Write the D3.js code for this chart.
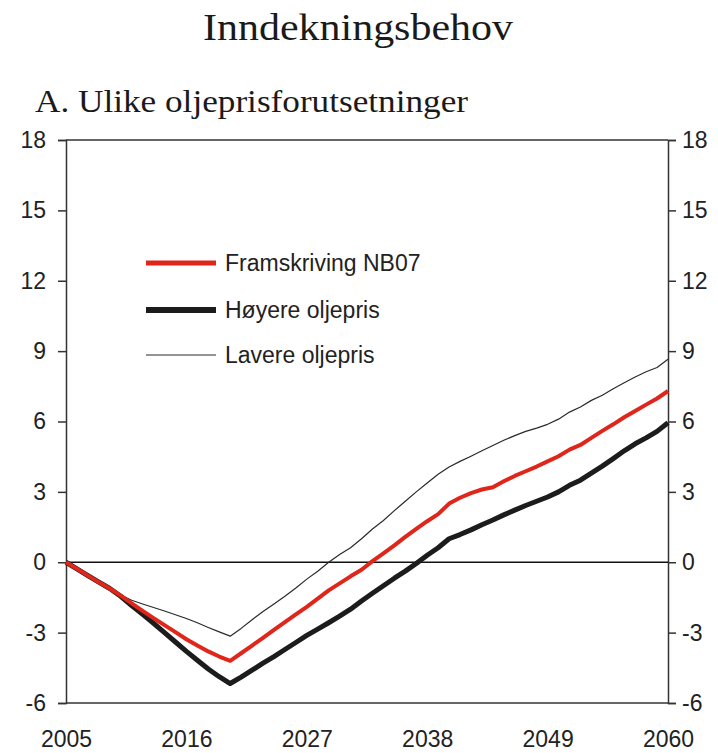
<!DOCTYPE html>
<html><head><meta charset="utf-8">
<script src="https://cdn.jsdelivr.net/npm/d3@7"></script>
<style>body{margin:0;background:#fff}svg{display:block}</style>
</head><body>
<svg id="c" width="718" height="753"></svg>
<script>
const title = "Inndekningsbehov";
const subtitle = "A. Ulike oljeprisforutsetninger";
const years = d3.range(2005, 2061);
const xTicks = [2005, 2016, 2027, 2038, 2049, 2060];
const yTicks = [-6, -3, 0, 3, 6, 9, 12, 15, 18];
const seriesNames = ["Framskriving NB07", "Høyere oljepris", "Lavere oljepris"];
const nb07 = [0,-0.28,-0.57,-0.85,-1.12,-1.42,-1.75,-2.07,-2.38,-2.68,-2.98,-3.28,-3.55,-3.8,-4.02,-4.2,
  -3.88,-3.55,-3.22,-2.88,-2.55,-2.22,-1.9,-1.55,-1.2,-0.9,-0.6,-0.32,0.05,0.38,0.72,1.08,1.42,1.75,2.05,2.5,
  2.75,2.95,3.1,3.2,3.45,3.68,3.88,4.08,4.3,4.52,4.8,5.0,5.3,5.6,5.88,6.18,6.45,6.72,6.98,7.3];
const hoyere = [0,-0.28,-0.57,-0.85,-1.12,-1.45,-1.85,-2.22,-2.6,-3.0,-3.4,-3.8,-4.18,-4.55,-4.88,-5.17,
  -4.9,-4.6,-4.3,-4.02,-3.72,-3.42,-3.12,-2.85,-2.58,-2.3,-2.0,-1.65,-1.32,-1.0,-0.68,-0.38,-0.05,0.3,0.62,1.0,
  1.18,1.38,1.6,1.8,2.02,2.22,2.42,2.6,2.78,3.0,3.28,3.5,3.8,4.1,4.42,4.75,5.05,5.3,5.58,5.95];
const lavere = [0,-0.28,-0.57,-0.85,-1.12,-1.4,-1.62,-1.78,-1.93,-2.08,-2.24,-2.4,-2.58,-2.78,-2.97,-3.15,
  -2.82,-2.45,-2.1,-1.78,-1.45,-1.1,-0.72,-0.38,0.0,0.33,0.62,1.0,1.42,1.78,2.2,2.6,3.0,3.38,3.75,4.06,
  4.3,4.52,4.75,4.98,5.2,5.4,5.58,5.72,5.88,6.1,6.4,6.62,6.9,7.12,7.4,7.65,7.9,8.12,8.3,8.65];

const svg = d3.select("#c");
const L = 66, R = 668, T = 140, B = 703;
const x = d3.scaleLinear().domain([2005, 2060]).range([L, R]);
const y = d3.scaleLinear().domain([-6, 18]).range([B, T]);
const axisColor = "#333";
const labelFont = "'Liberation Sans', Arial, sans-serif";
const serif = "'Liberation Serif', 'Times New Roman', serif";
const textColor = "#222";
const fs = 23;
const fmt = d => String(d);

svg.append("text").attr("x", 358).attr("y", 40).attr("text-anchor", "middle")
  .attr("font-family", serif).attr("font-size", 37)
  .attr("textLength", 310).attr("lengthAdjust", "spacingAndGlyphs")
  .attr("fill", "#1a1a1a").text(title);
svg.append("text").attr("x", 35).attr("y", 112)
  .attr("font-family", serif).attr("font-size", 31)
  .attr("textLength", 433).attr("lengthAdjust", "spacingAndGlyphs")
  .attr("fill", "#1a1a1a").text(subtitle);

// frame
svg.append("line").attr("x1", L).attr("x2", R).attr("y1", T).attr("y2", T).attr("stroke", axisColor).attr("stroke-width", 1.5);
svg.append("line").attr("x1", L).attr("x2", R).attr("y1", B).attr("y2", B).attr("stroke", axisColor).attr("stroke-width", 1.5);

const yl = svg.append("g").attr("transform", `translate(${L},0)`)
  .call(d3.axisLeft(y).tickValues(yTicks).tickSize(8).tickPadding(12).tickFormat(fmt));
const yr = svg.append("g").attr("transform", `translate(${R},0)`)
  .call(d3.axisRight(y).tickValues(yTicks).tickSize(8).tickPadding(6).tickFormat(fmt));
const xb = svg.append("g").attr("transform", `translate(0,${B})`)
  .call(d3.axisBottom(x).tickValues(xTicks).tickSize(0).tickPadding(28).tickFormat(fmt));
[yl, yr, xb].forEach(g => {
  g.select(".domain").attr("stroke", axisColor).attr("stroke-width", 1.5);
  g.selectAll(".tick line").attr("stroke", axisColor).attr("stroke-width", 1.5);
  g.selectAll(".tick text").attr("font-family", labelFont).attr("font-size", fs).attr("fill", textColor);
});
xb.select(".domain").remove();

// zero line
svg.append("line").attr("x1", L).attr("x2", R).attr("y1", y(0)).attr("y2", y(0)).attr("stroke", "#111").attr("stroke-width", 1.5);

const line = d3.line().x((d, i) => x(years[i])).y(d => y(d));
const styles = [
  {data: lavere, color: "#2a2a2a", w: 1.2},
  {data: hoyere, color: "#1c1c1c", w: 5},
  {data: nb07, color: "#e0261b", w: 4}
];
styles.forEach(s => svg.append("path").datum(s.data).attr("d", line)
  .attr("fill", "none").attr("stroke", s.color).attr("stroke-width", s.w).attr("stroke-linejoin", "round"));

// legend
const leg = [
  {name: seriesNames[0], color: "#e0261b", w: 5, y: 263},
  {name: seriesNames[1], color: "#1c1c1c", w: 6, y: 310},
  {name: seriesNames[2], color: "#2a2a2a", w: 1.2, y: 355}
];
leg.forEach(l => {
  svg.append("line").attr("x1", 146).attr("x2", 216).attr("y1", l.y).attr("y2", l.y)
    .attr("stroke", l.color).attr("stroke-width", l.w);
  svg.append("text").attr("x", 225).attr("y", l.y).attr("dy", "0.36em")
    .attr("font-family", labelFont).attr("font-size", fs).attr("fill", textColor).text(l.name);
});
</script>
</body></html>
